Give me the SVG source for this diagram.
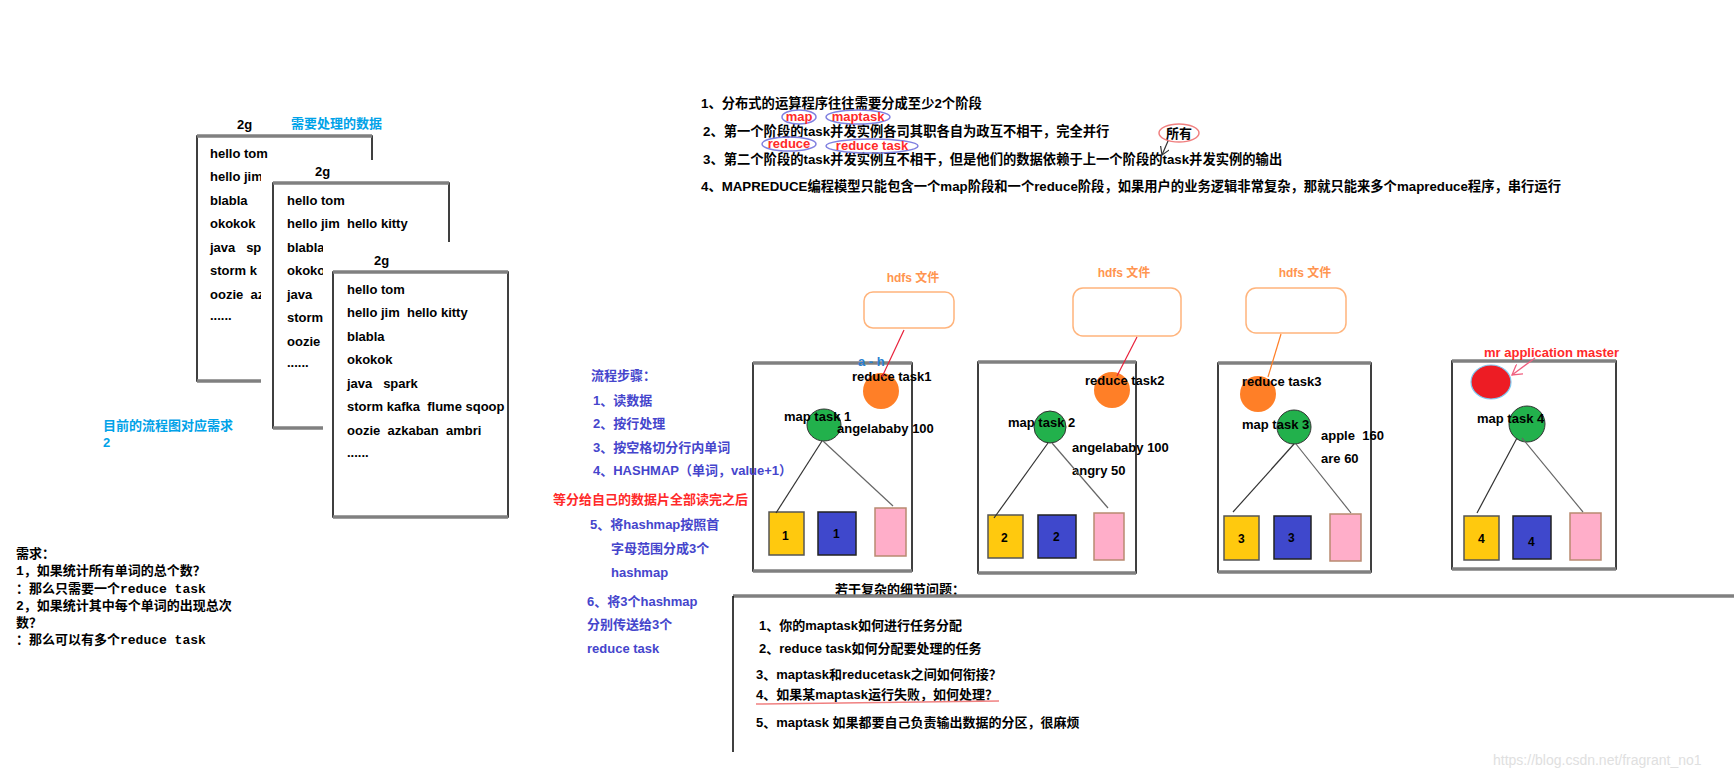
<svg xmlns="http://www.w3.org/2000/svg" width="1734" height="778" viewBox="0 0 1734 778">
<style>
.t{font-family:"Liberation Sans","Noto Sans CJK SC",sans-serif;font-weight:bold;font-size:13px;fill:#000;white-space:pre}
.m{font-family:"Liberation Mono","Noto Sans CJK SC",monospace;font-weight:bold;font-size:13px;fill:#000;white-space:pre}
.cj{font-family:"Noto Sans CJK SC",sans-serif}
.p{font-size:13.3px}
.cy{fill:#00a2e8}
.bl{fill:#4545cc}
.rd{fill:#ff2a2a}
.or{fill:#ff9550;font-size:12px}
.frame{fill:#fff;stroke:#000;stroke-width:1.5}
.gb{stroke:#808080;stroke-width:3.5}
.hdfs{fill:#fff;stroke:#ffb47c;stroke-width:1.5}
.yel{fill:#ffc90e;stroke:#555;stroke-width:1.5}
.blu{fill:#3f48cc;stroke:#222;stroke-width:1.5}
.pnk{fill:#ffaec9;stroke:#b98a70;stroke-width:1.5}
.orc{fill:#ff7f27}
.grc{fill:#22b14c;stroke:#333;stroke-width:1}
.ln{stroke:#333;stroke-width:1.2;fill:none}
.lg{stroke:#666;stroke-width:1.2;fill:none}
.num{font-size:12px}
.ann{fill:none;stroke:#8080e0;stroke-width:1.5}
</style>
<defs>
<marker id="ah" markerWidth="10" markerHeight="10" refX="8" refY="5" orient="auto" markerUnits="userSpaceOnUse">
<path d="M0,0 L8,5 L0,10" fill="none" stroke="#333" stroke-width="1.2"/>
</marker>
<marker id="ahp" markerWidth="12" markerHeight="12" refX="10" refY="6" orient="auto" markerUnits="userSpaceOnUse">
<path d="M0,0 L10,6 L0,12" fill="none" stroke="#f06080" stroke-width="1.3"/>
</marker>
</defs>
<rect width="1734" height="778" fill="#fff"/>

<!-- data files -->
<g id="data1">
<text class="t" x="237" y="129">2g</text>
<text class="t cy" x="291" y="128">需要处理的数据</text>
<rect class="frame" x="197" y="136" width="175" height="245"/>
<line class="gb" x1="197" y1="136" x2="372" y2="136"/>
<line class="gb" x1="197" y1="381" x2="372" y2="381"/>
<text class="t" x="210" y="158">hello tom</text>
<text class="t" x="210" y="181">hello jim</text>
<text class="t" x="210" y="205">blabla</text>
<text class="t" x="210" y="228">okokok</text>
<text class="t" x="210" y="252">java   sp</text>
<text class="t" x="210" y="275">storm k</text>
<text class="t" x="210" y="299">oozie  az</text>
<text class="t" x="210" y="320">......</text>
</g>
<g id="data2">
<rect x="261" y="160" width="195" height="275" fill="#fff"/>
<text class="t" x="315" y="176">2g</text>
<rect class="frame" x="273" y="183" width="176" height="245"/>
<line class="gb" x1="273" y1="183" x2="449" y2="183"/>
<line class="gb" x1="273" y1="428" x2="449" y2="428"/>
<text class="t" x="287" y="205">hello tom</text>
<text class="t" x="287" y="228">hello jim  hello kitty</text>
<text class="t" x="287" y="252">blabla</text>
<text class="t" x="287" y="275">okokok</text>
<text class="t" x="287" y="299">java</text>
<text class="t" x="287" y="322">storm</text>
<text class="t" x="287" y="346">oozie</text>
<text class="t" x="287" y="367">......</text>
</g>
<g id="data3">
<rect x="323" y="242" width="192" height="280" fill="#fff"/>
<text class="t" x="374" y="265">2g</text>
<rect class="frame" x="333" y="272" width="175" height="245"/>
<line class="gb" x1="333" y1="272" x2="508" y2="272"/>
<line class="gb" x1="333" y1="517" x2="508" y2="517"/>
<text class="t" x="347" y="294">hello tom</text>
<text class="t" x="347" y="317">hello jim  hello kitty</text>
<text class="t" x="347" y="341">blabla</text>
<text class="t" x="347" y="364">okokok</text>
<text class="t" x="347" y="388">java   spark</text>
<text class="t" x="347" y="411">storm kafka  flume sqoop</text>
<text class="t" x="347" y="435">oozie  azkaban  ambri</text>
<text class="t" x="347" y="457">......</text>
</g>

<g id="note-current">
<text class="t cy" x="103" y="430">目前的流程图对应需求</text>
<text class="t cy" x="103" y="447">2</text>
</g>

<g id="requirements">
<text class="m" x="16" y="558">需求：</text>
<text class="m" x="16" y="575">1，如果统计所有单词的总个数<tspan class="cj">？</tspan></text>
<text class="m" x="16" y="593">：那么只需要一个reduce task</text>
<text class="m" x="16" y="610">2，如果统计其中每个单词的出现总次</text>
<text class="m" x="16" y="627">数<tspan class="cj">？</tspan></text>
<text class="m" x="16" y="644">：那么可以有多个reduce task</text>
</g>

<!-- top notes -->
<g id="principles">
<text class="t p" x="701" y="108">1、分布式的运算程序往往需要分成至少2个阶段</text>
<text class="t p" x="703" y="136">2、第一个阶段的task并发实例各司其职各自为政互不相干，完全并行</text>
<text class="t p" x="703" y="164">3、第二个阶段的task并发实例互不相干，但是他们的数据依赖于上一个阶段的task并发实例的输出</text>
<text class="t p" x="701" y="191">4、MAPREDUCE编程模型只能包含一个map阶段和一个reduce阶段，如果用户的业务逻辑非常复杂，那就只能来多个mapreduce程序，串行运行</text>
<ellipse class="ann" cx="799" cy="117" rx="17" ry="7"/>
<text class="t rd" x="799" y="121" font-size="12" text-anchor="middle">map</text>
<ellipse class="ann" cx="858" cy="117" rx="32" ry="7"/>
<text class="t rd" x="858" y="121" font-size="12" text-anchor="middle">maptask</text>
<ellipse class="ann" cx="789" cy="144" rx="27" ry="7"/>
<text class="t rd" x="789" y="148" font-size="12" text-anchor="middle">reduce</text>
<ellipse class="ann" cx="872" cy="146" rx="46" ry="7"/>
<text class="t rd" x="872" y="150" font-size="12" text-anchor="middle">reduce task</text>
<ellipse cx="1179" cy="133" rx="20" ry="9" fill="none" stroke="#f08080" stroke-width="1.5"/>
<text class="t" x="1179" y="138" text-anchor="middle">所有</text>
<line x1="1168" y1="141" x2="1162" y2="155" stroke="#333" stroke-width="1.2" marker-end="url(#ah)"/>
</g>

<!-- task nodes -->
<g id="node1">
<rect class="frame" x="753" y="363" width="159" height="208"/>
<line class="gb" x1="753" y1="363" x2="912" y2="363"/>
<line class="gb" x1="753" y1="571" x2="912" y2="571"/>
<text class="t or" x="913" y="282" text-anchor="middle">hdfs 文件</text>
<rect class="hdfs" x="864" y="292" width="90" height="36" rx="9"/>
<text class="t" x="858" y="366" font-size="11" style="fill:#2a7fd0">a - h</text>
<circle class="orc" cx="881" cy="391" r="18"/>
<text class="t" x="852" y="381">reduce task1</text>
<ellipse class="grc" cx="824" cy="425" rx="17" ry="16"/>
<text class="t" x="784" y="421">map task 1</text>
<text class="t" x="837" y="433">angelababy 100</text>
<rect class="yel" x="769" y="512" width="35" height="43"/>
<text class="t num" x="782" y="540">1</text>
<rect class="blu" x="818" y="512" width="38" height="43"/>
<text class="t num" x="833" y="538">1</text>
<rect class="pnk" x="875" y="508" width="31" height="48"/>
</g>
<g id="node2">
<rect class="frame" x="978" y="362" width="158" height="211"/>
<line class="gb" x1="978" y1="362" x2="1136" y2="362"/>
<line class="gb" x1="978" y1="573" x2="1136" y2="573"/>
<text class="t or" x="1124" y="277" text-anchor="middle">hdfs 文件</text>
<rect class="hdfs" x="1073" y="288" width="108" height="48" rx="10"/>
<circle class="orc" cx="1112" cy="390" r="18"/>
<text class="t" x="1085" y="385">reduce task2</text>
<ellipse class="grc" cx="1050" cy="427" rx="16" ry="16"/>
<text class="t" x="1008" y="427">map task 2</text>
<text class="t" x="1072" y="452">angelababy 100</text>
<text class="t" x="1072" y="475">angry 50</text>
<rect class="yel" x="988" y="515" width="35" height="43"/>
<text class="t num" x="1001" y="542">2</text>
<rect class="blu" x="1038" y="515" width="38" height="43"/>
<text class="t num" x="1053" y="541">2</text>
<rect class="pnk" x="1094" y="513" width="30" height="47"/>
</g>
<g id="node3">
<rect class="frame" x="1218" y="363" width="153" height="209"/>
<line class="gb" x1="1218" y1="363" x2="1371" y2="363"/>
<line class="gb" x1="1218" y1="572" x2="1371" y2="572"/>
<text class="t or" x="1305" y="277" text-anchor="middle">hdfs 文件</text>
<rect class="hdfs" x="1246" y="288" width="100" height="45" rx="10"/>
<circle class="orc" cx="1258" cy="394" r="18"/>
<text class="t" x="1242" y="386">reduce task3</text>
<ellipse class="grc" cx="1294" cy="427" rx="17" ry="17"/>
<text class="t" x="1242" y="429">map task 3</text>
<text class="t" x="1321" y="440">apple  160</text>
<text class="t" x="1321" y="463">are 60</text>
<rect class="yel" x="1224" y="516" width="35" height="44"/>
<text class="t num" x="1238" y="543">3</text>
<rect class="blu" x="1274" y="516" width="37" height="43"/>
<text class="t num" x="1288" y="542">3</text>
<rect class="pnk" x="1330" y="514" width="31" height="47"/>
</g>
<g id="node4">
<rect class="frame" x="1452" y="361" width="164" height="208"/>
<line class="gb" x1="1452" y1="361" x2="1616" y2="361"/>
<line class="gb" x1="1452" y1="569" x2="1616" y2="569"/>
<text class="t rd" x="1484" y="357">mr application master</text>
<ellipse cx="1491" cy="382" rx="20" ry="17" fill="#ed1c24" stroke="#7ec8f0" stroke-width="1.2"/>
<ellipse class="grc" cx="1527" cy="424" rx="18" ry="18"/>
<text class="t" x="1477" y="423">map task 4</text>
<rect class="yel" x="1464" y="516" width="35" height="44"/>
<text class="t num" x="1478" y="543">4</text>
<rect class="blu" x="1513" y="516" width="38" height="43"/>
<text class="t num" x="1528" y="546">4</text>
<rect class="pnk" x="1570" y="513" width="31" height="47"/>
</g>

<g id="steps">
<text class="t bl" x="591" y="380">流程步骤：</text>
<text class="t bl" x="593" y="405">1、读数据</text>
<text class="t bl" x="593" y="428">2、按行处理</text>
<text class="t bl" x="593" y="452">3、按空格切分行内单词</text>
<text class="t bl" x="593" y="475">4、HASHMAP（单词，value+1）</text>
<text class="t rd" x="553" y="504">等分给自己的数据片全部读完之后</text>
<text class="t bl" x="590" y="529">5、将hashmap按照首</text>
<text class="t bl" x="611" y="553">字母范围分成3个</text>
<text class="t bl" x="611" y="577">hashmap</text>
<text class="t bl" x="587" y="606">6、将3个hashmap</text>
<text class="t bl" x="587" y="629">分别传送给3个</text>
<text class="t bl" x="587" y="653">reduce task</text>
</g>

<g id="connectors">
<line x1="904" y1="330" x2="882" y2="377" stroke="#e8203a" stroke-width="1.2"/>
<line x1="1137" y1="337" x2="1117" y2="376" stroke="#e8203a" stroke-width="1.2"/>
<line x1="1281" y1="334" x2="1268" y2="377" stroke="#ff7f27" stroke-width="1.2"/>
<line x1="1535" y1="358" x2="1512" y2="375" stroke="#f06080" stroke-width="1.3" marker-end="url(#ahp)"/>
<line class="ln" x1="822" y1="441" x2="776" y2="513"/>
<line class="lg" x1="823" y1="441" x2="893" y2="506"/>
<line class="ln" x1="1048" y1="443" x2="994" y2="518"/>
<line class="lg" x1="1052" y1="443" x2="1108" y2="508"/>
<line class="ln" x1="1294" y1="444" x2="1233" y2="512"/>
<line class="lg" x1="1296" y1="444" x2="1351" y2="513"/>
<line class="ln" x1="1517" y1="438" x2="1477" y2="513"/>
<line class="lg" x1="1522" y1="438" x2="1583" y2="512"/>
</g>

<g id="details">
<text class="t" x="835" y="594">若干复杂的细节问题：</text>
<line class="gb" x1="733" y1="596" x2="1734" y2="596"/>
<line x1="733" y1="596" x2="733" y2="752" stroke="#000" stroke-width="1.5"/>
<text class="t" x="759" y="630">1、你的maptask如何进行任务分配</text>
<text class="t" x="759" y="653">2、reduce task如何分配要处理的任务</text>
<text class="t" x="756" y="679">3、maptask和reducetask之间如何衔接<tspan class="cj">？</tspan></text>
<text class="t" x="756" y="699">4、如果某maptask运行失败，如何处理<tspan class="cj">？</tspan></text>
<line x1="756" y1="704" x2="999" y2="701" stroke="#f08080" stroke-width="1.5"/>
<text class="t" x="756" y="727">5、maptask 如果都要自己负责输出数据的分区，很麻烦</text>
</g>

<text x="1493" y="765" font-family="Liberation Sans, sans-serif" font-size="14" fill="#e0e0e0">https://blog.csdn.net/fragrant_no1</text>
</svg>
